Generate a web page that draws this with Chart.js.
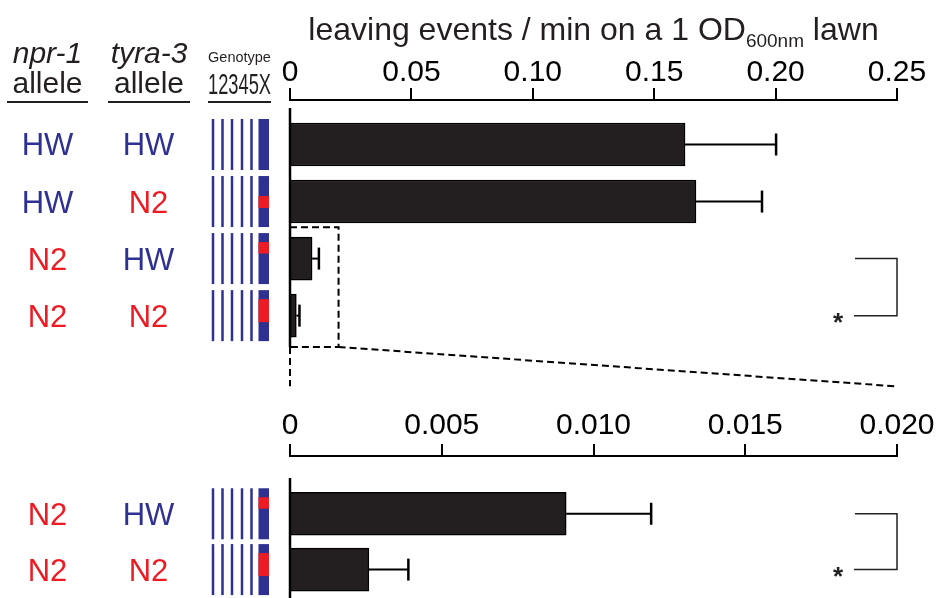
<!DOCTYPE html>
<html>
<head>
<meta charset="utf-8">
<script src="https://cdn.jsdelivr.net/npm/chart.js@4.4.1/dist/chart.umd.min.js"></script>
<style>
  html, body { margin: 0; padding: 0; background: #fff; }
  #wrap { position: relative; width: 940px; height: 598px; }
  #wrap canvas { position: absolute; left: 0; top: 0; }
</style>
</head>
<body>
<div id="wrap">
  <canvas id="fullRange" width="940" height="598"></canvas>
  <canvas id="zoomRange" width="940" height="598"></canvas>
</div>
<script>
// full range panel
var nprAllele = ['HW', 'HW', 'N2', 'N2'];
var tyraAllele = ['HW', 'N2', 'HW', 'N2'];
var leavingRate = [0.1627, 0.1672, 0.0091, 0.0026];
var leavingSem = [0.0375, 0.0272, 0.0028, 0.0013];
var fullTicks = ['0', '0.05', '0.10', '0.15', '0.20', '0.25'];

// zoomed panel (N2 npr-1 strains only)
var zoomNpr = ['N2', 'N2'];
var zoomTyra = ['HW', 'N2'];
var zoomRate = [0.0091, 0.0026];
var zoomSem = [0.0028, 0.0013];
var zoomTicks = ['0', '0.005', '0.010', '0.015', '0.020'];

var BLUE = '#2e3192', RED = '#ed1c24', INK = '#231f20';
var FONT = '"Liberation Sans", Arial, sans-serif';

function alleleColor(a) { return a === 'HW' ? BLUE : RED; }

function rowLabels(chart, npr, tyra) {
  var ctx = chart.ctx, y = chart.scales.y;
  ctx.save();
  ctx.font = '31px ' + FONT;
  ctx.textAlign = 'center';
  ctx.textBaseline = 'alphabetic';
  for (var i = 0; i < npr.length; i++) {
    var py = y.getPixelForValue(i) + 11;
    ctx.fillStyle = alleleColor(npr[i]);
    ctx.fillText(npr[i], 47.5, py);
    ctx.fillStyle = alleleColor(tyra[i]);
    ctx.fillText(tyra[i], 148.5, py);
  }
  ctx.restore();
}

function genotypes(chart, npr, tyra) {
  var ctx = chart.ctx, y = chart.scales.y;
  var thin = [213, 222.5, 232, 242, 251.5];
  ctx.save();
  for (var i = 0; i < npr.length; i++) {
    var top = y.getPixelForValue(i) - 25.5;
    ctx.fillStyle = BLUE;
    thin.forEach(function (cx) { ctx.fillRect(cx - 1.25, top, 2.5, 51); });
    ctx.fillRect(258.5, top, 10.5, 51);
    ctx.fillStyle = RED;
    if (npr[i] === 'N2') ctx.fillRect(258.5, top + 9, 10.5, 11.5);
    if (tyra[i] === 'N2') ctx.fillRect(258.5, top + 20, 10.5, 12);
  }
  ctx.restore();
}

function errorBars(chart, mean, sem) {
  var ctx = chart.ctx, x = chart.scales.x, y = chart.scales.y;
  ctx.save();
  ctx.strokeStyle = '#000';
  for (var i = 0; i < mean.length; i++) {
    var py = y.getPixelForValue(i);
    var x0 = x.getPixelForValue(mean[i]), x1 = x.getPixelForValue(mean[i] + sem[i]);
    ctx.lineWidth = 2;
    ctx.beginPath(); ctx.moveTo(x0, py); ctx.lineTo(x1, py); ctx.stroke();
    ctx.lineWidth = 2.5;
    ctx.beginPath(); ctx.moveTo(x1, py - 11); ctx.lineTo(x1, py + 11); ctx.stroke();
  }
  ctx.restore();
}

function valueAxis(chart, fromRow, toPx) {
  var ctx = chart.ctx;
  var px = chart.scales.x.getPixelForValue(0);
  ctx.save();
  ctx.strokeStyle = '#000';
  ctx.lineWidth = 2.5;
  ctx.beginPath();
  ctx.moveTo(px, chart.scales.y.getPixelForValue(fromRow));
  ctx.lineTo(px, toPx);
  ctx.stroke();
  ctx.restore();
}

function bracket(chart, rowA, rowB) {
  var ctx = chart.ctx, y = chart.scales.y, r = chart.chartArea.right;
  var ya = y.getPixelForValue(rowA), yb = y.getPixelForValue(rowB);
  ctx.save();
  ctx.strokeStyle = '#222';
  ctx.lineWidth = 1.5;
  ctx.beginPath();
  ctx.moveTo(r - 42, ya); ctx.lineTo(r, ya); ctx.lineTo(r, yb); ctx.lineTo(r - 43, yb);
  ctx.stroke();
  ctx.fillStyle = '#222';
  ctx.font = 'bold 26px ' + FONT;
  ctx.textAlign = 'center';
  ctx.fillText('*', r - 59, yb + 15);
  ctx.restore();
}

var fullDecor = {
  id: 'fullDecor',
  afterDatasetsDraw: function (chart) {
    var ctx = chart.ctx, x = chart.scales.x, y = chart.scales.y, area = chart.chartArea;
    errorBars(chart, leavingRate, leavingSem);
    var boxBottom = y.getPixelForValue(3.55);
    valueAxis(chart, -0.64, boxBottom);
    rowLabels(chart, nprAllele, tyraAllele);
    genotypes(chart, nprAllele, tyraAllele);
    bracket(chart, 2, 3);

    // zoom indicator
    var xs = x.getPixelForValue(0), xe = x.getPixelForValue(0.02);
    var yt = y.getPixelForValue(1.45), yEnd = y.getPixelForValue(4.24);
    ctx.save();
    ctx.strokeStyle = '#000';
    ctx.lineWidth = 2;
    ctx.setLineDash([7, 4]);
    ctx.beginPath();
    ctx.moveTo(xs, yt); ctx.lineTo(xe, yt); ctx.lineTo(xe, boxBottom); ctx.lineTo(xs, boxBottom);
    ctx.stroke();
    ctx.beginPath(); ctx.moveTo(xe, boxBottom); ctx.lineTo(area.right, yEnd); ctx.stroke();
    ctx.beginPath(); ctx.moveTo(xs, boxBottom); ctx.lineTo(xs, yEnd); ctx.stroke();
    ctx.restore();

    // column headers
    ctx.save();
    ctx.fillStyle = INK;
    ctx.textAlign = 'center';
    ctx.font = 'italic 30px ' + FONT;
    ctx.fillText('npr-1', 47.5, 63);
    ctx.fillText('tyra-3', 149, 63);
    ctx.font = '30px ' + FONT;
    ctx.fillText('allele', 47.5, 93);
    ctx.fillText('allele', 149, 93);
    ctx.font = '14.5px ' + FONT;
    ctx.fillText('Genotype', 239.5, 62);
    ctx.font = '30px ' + FONT;
    ctx.fillText('12345X', 239.5, 94, 63);
    ctx.strokeStyle = INK;
    ctx.lineWidth = 2;
    [[7, 88], [108, 190], [208, 271]].forEach(function (s) {
      ctx.beginPath(); ctx.moveTo(s[0], 102); ctx.lineTo(s[1], 102); ctx.stroke();
    });

    // axis title with subscript
    var main = 'leaving events / min on a 1 OD', sub = '600nm', tail = ' lawn';
    ctx.textAlign = 'left';
    ctx.font = '32px ' + FONT;
    var w1 = ctx.measureText(main).width, w3 = ctx.measureText(tail).width;
    ctx.font = '19px ' + FONT;
    var w2 = ctx.measureText(sub).width;
    var sx = (area.left + area.right) / 2 - (w1 + w2 + w3) / 2;
    ctx.font = '32px ' + FONT;
    ctx.fillText(main, sx, 40);
    ctx.fillText(tail, sx + w1 + w2, 40);
    ctx.font = '19px ' + FONT;
    ctx.fillText(sub, sx + w1, 47);
    ctx.restore();
  }
};

var zoomDecor = {
  id: 'zoomDecor',
  afterDatasetsDraw: function (chart) {
    errorBars(chart, zoomRate, zoomSem);
    valueAxis(chart, -0.64, chart.chartArea.bottom);
    rowLabels(chart, zoomNpr, zoomTyra);
    genotypes(chart, zoomNpr, zoomTyra);
    bracket(chart, 0, 1);
  }
};

function makeChart(id, rates, xMax, step, tickLabels, yMin, yMax, padTop, padBottom, tickPad, plugin) {
  return new Chart(document.getElementById(id), {
    type: 'bar',
    data: {
      datasets: [{
        data: rates.map(function (v, i) { return { x: v, y: i }; }),
        backgroundColor: INK,
        borderColor: '#000',
        borderWidth: 1.5,
        barThickness: 43
      }]
    },
    options: {
      indexAxis: 'y',
      responsive: false,
      animation: false,
      layout: { padding: { left: 290, right: 43, top: padTop, bottom: padBottom } },
      plugins: { legend: { display: false }, tooltip: { enabled: false } },
      scales: {
        x: {
          type: 'linear',
          position: 'top',
          min: 0,
          max: xMax,
          border: { display: true, color: '#000', width: 2 },
          grid: { drawOnChartArea: false, drawTicks: true, tickLength: 12, color: '#000', lineWidth: 2 },
          ticks: {
            stepSize: step,
            padding: tickPad,
            color: '#000',
            maxRotation: 0,
            autoSkip: false,
            font: { family: FONT, size: 30, lineHeight: 1 },
            callback: function (v, i) { return tickLabels[i]; }
          }
        },
        y: { type: 'linear', display: false, offset: false, reverse: true, min: yMin, max: yMax }
      }
    },
    plugins: [plugin]
  });
}

makeChart('fullRange', leavingRate, 0.25, 0.05, fullTicks, -0.78, 3.55, 58, 251, 0, fullDecor);
makeChart('zoomRange', zoomRate, 0.02, 0.005, zoomTicks, -1.035, 1.509, 408, 0, 3, zoomDecor);
</script>
</body>
</html>
